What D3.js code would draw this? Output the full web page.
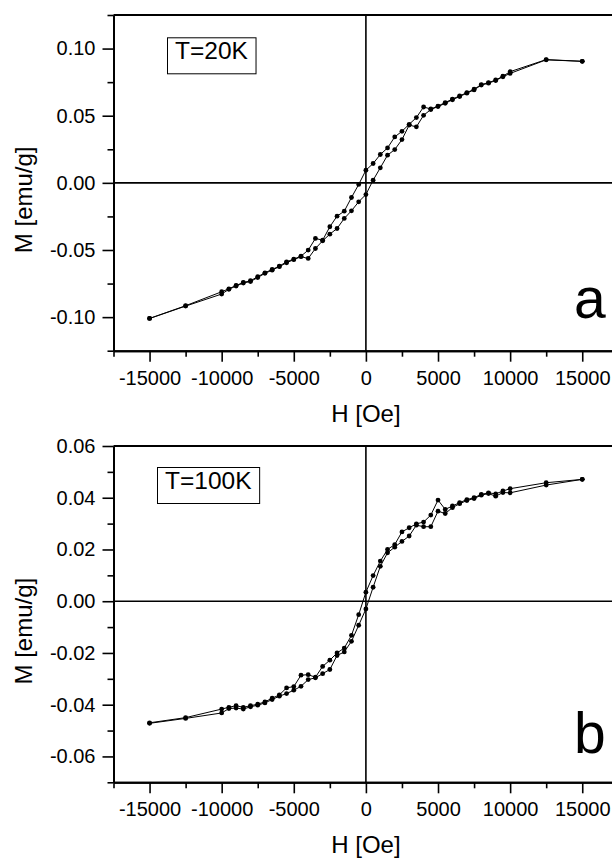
<!DOCTYPE html>
<html>
<head>
<meta charset="utf-8">
<script src="https://cdn.jsdelivr.net/npm/d3@7"></script>
<style>
  body { margin: 0; background: #fff; }
  text { font-family: "Liberation Sans", Arial, sans-serif; fill: #000; }
</style>
</head>
<body>
<div id="container"></div>
<script>
/* CONSTANTS AND GLOBALS */
const width = 612, height = 861;

// field steps (Oe), same grid for both loops, from +15000 down to -15000
const fieldH = [15000, 12500, 10000, 9500, 9000, 8500, 8000, 7500, 7000, 6500, 6000, 5500, 5000, 4500,
  4000, 3500, 3000, 2500, 2000, 1500, 1000, 500, 0, -500, -1000, -1500, -2000, -2500, -3000, -3500,
  -4000, -4500, -5000, -5500, -6000, -6500, -7000, -7500, -8000, -8500, -9000, -9500, -10000, -12500, -15000];

// T=20K : descending branch and ascending branch (emu/g)
const mDown20 = [0.0905, 0.0918, 0.0828, 0.0794, 0.0766, 0.0746, 0.0732, 0.0697, 0.0672, 0.0647, 0.0624, 0.0598, 0.0572, 0.0550,
  0.0565, 0.0486, 0.0436, 0.0384, 0.0342, 0.0260, 0.0211, 0.0144, 0.0094, -0.0012, -0.0109, -0.0211, -0.0248, -0.0327, -0.0427, -0.0414,
  -0.0501, -0.0546, -0.0568, -0.0588, -0.0620, -0.0645, -0.0670, -0.0699, -0.0729, -0.0742, -0.0764, -0.0789, -0.0811, -0.0915, -0.1010];
const mUp20 = [0.0905, 0.0916, 0.0815, 0.0790, 0.0762, 0.0742, 0.0728, 0.0692, 0.0668, 0.0643, 0.0619, 0.0592, 0.0568, 0.0546,
  0.0503, 0.0417, 0.0430, 0.0322, 0.0248, 0.0206, 0.0112, 0.0020, -0.0087, -0.0141, -0.0208, -0.0265, -0.0340, -0.0382, -0.0432, -0.0489,
  -0.0563, -0.0550, -0.0572, -0.0595, -0.0624, -0.0650, -0.0674, -0.0705, -0.0735, -0.0746, -0.0768, -0.0793, -0.0828, -0.0918, -0.1010];

// T=100K
const mDown100 = [0.0471, 0.0458, 0.0435, 0.0426, 0.0415, 0.0419, 0.0413, 0.0400, 0.0393, 0.0381, 0.0368, 0.0355, 0.0391, 0.0333,
  0.0306, 0.0299, 0.0284, 0.0268, 0.0219, 0.0200, 0.0155, 0.0099, 0.0035, -0.0052, -0.0132, -0.0181, -0.0200, -0.0228, -0.0252, -0.0294,
  -0.0284, -0.0286, -0.0330, -0.0335, -0.0362, -0.0375, -0.0389, -0.0398, -0.0404, -0.0410, -0.0404, -0.0410, -0.0417, -0.0450, -0.0470];
const mUp100 = [0.0471, 0.0449, 0.0419, 0.0420, 0.0406, 0.0416, 0.0410, 0.0397, 0.0389, 0.0377, 0.0362, 0.0339, 0.0348, 0.0288,
  0.0288, 0.0294, 0.0252, 0.0231, 0.0209, 0.0187, 0.0135, 0.0054, -0.0030, -0.0093, -0.0155, -0.0196, -0.0210, -0.0264, -0.0280, -0.0296,
  -0.0303, -0.0329, -0.0344, -0.0357, -0.0367, -0.0380, -0.0393, -0.0402, -0.0408, -0.0417, -0.0413, -0.0415, -0.0432, -0.0453, -0.0472];

// ticks
const xMajor = [-15000, -10000, -5000, 0, 5000, 10000, 15000];
const xMinor = [-17500, -12500, -7500, -2500, 2500, 7500, 12500, 17500];
const yMajor20 = [-0.10, -0.05, 0.00, 0.05, 0.10];
const yMinor20 = [-0.125, -0.075, -0.025, 0.025, 0.075, 0.125];
const yMajor100 = [-0.06, -0.04, -0.02, 0.00, 0.02, 0.04, 0.06];
const yMinor100 = [-0.07, -0.05, -0.03, -0.01, 0.01, 0.03, 0.05];

const panels = [
  { top: 15, bottom: 350.7, yDomain: [-0.125, 0.125], yMajor: yMajor20, yMinor: yMinor20,
    down: mDown20, up: mUp20, temp: "T=20K", letter: "a" },
  { top: 446, bottom: 782.3, yDomain: [-0.07, 0.06], yMajor: yMajor100, yMinor: yMinor100,
    down: mDown100, up: mUp100, temp: "T=100K", letter: "b" }
];

const left = 113.5, right = 618.3; // right edge of the frame falls outside the page

const svg = d3.select("#container").append("svg")
  .attr("width", width)
  .attr("height", height)
  .style("display", "block");

const xScale = d3.scaleLinear().domain([-17500, 17500]).range([left, right]);

panels.forEach(p => {
  const yScale = d3.scaleLinear().domain(p.yDomain).range([p.bottom, p.top]);
  const g = svg.append("g");

  // zero lines
  g.append("line")
    .attr("x1", left).attr("x2", right)
    .attr("y1", yScale(0)).attr("y2", yScale(0))
    .attr("stroke", "#000").attr("stroke-width", 1.6);
  g.append("line")
    .attr("x1", xScale(0)).attr("x2", xScale(0))
    .attr("y1", p.top).attr("y2", p.bottom)
    .attr("stroke", "#000").attr("stroke-width", 1.6);

  // top frame
  g.append("line")
    .attr("x1", left).attr("x2", right)
    .attr("y1", p.top).attr("y2", p.top)
    .attr("stroke", "#000").attr("stroke-width", 2);

  // AXES
  const xMinorAxis = d3.axisBottom(xScale).tickValues(xMinor).tickSize(6).tickSizeOuter(0).tickFormat("");
  const xAxis = d3.axisBottom(xScale).tickValues(xMajor).tickSize(11).tickSizeOuter(0)
    .tickPadding(9).tickFormat(d => String(d));
  const yMinorAxis = d3.axisLeft(yScale).tickValues(p.yMinor).tickSize(6).tickSizeOuter(0).tickFormat("");
  const yAxis = d3.axisLeft(yScale).tickValues(p.yMajor).tickSize(11).tickSizeOuter(0)
    .tickPadding(7).tickFormat(d => d.toFixed(2));

  [xMinorAxis, xAxis].forEach(ax => {
    g.append("g").attr("transform", `translate(0,${p.bottom})`).call(ax);
  });
  [yMinorAxis, yAxis].forEach(ax => {
    g.append("g").attr("transform", `translate(${left},0)`).call(ax);
  });
  g.selectAll(".domain").attr("stroke-width", 2);
  g.selectAll(".tick line").attr("stroke-width", 1.6);
  g.selectAll(".tick text").style("font-size", "20px").style("font-family", "'Liberation Sans', Arial, sans-serif");

  // axis titles
  g.append("text")
    .attr("x", xScale(0)).attr("y", p.bottom + 71)
    .attr("text-anchor", "middle")
    .style("font-size", "24px")
    .text("H [Oe]");
  g.append("text")
    .attr("transform", `translate(32,${(p.top + p.bottom) / 2 + 17}) rotate(-90)`)
    .attr("text-anchor", "middle")
    .style("font-size", "24px")
    .text("M [emu/g]");

  // DRAW LINE: descending branch then ascending branch back up
  const downPts = fieldH.map((h, i) => ({ h: h, m: p.down[i] }));
  const upPts = fieldH.map((h, i) => ({ h: h, m: p.up[i] })).reverse();
  const loop = downPts.concat(upPts);

  const line = d3.line()
    .x(d => xScale(d.h))
    .y(d => yScale(d.m));

  g.append("path")
    .attr("d", line(loop))
    .attr("fill", "none")
    .attr("stroke", "#000")
    .attr("stroke-width", 1);

  g.selectAll("circle.pt")
    .data(loop)
    .join("circle")
    .attr("class", "pt")
    .attr("cx", d => xScale(d.h))
    .attr("cy", d => yScale(d.m))
    .attr("r", 2.4)
    .attr("fill", "#000");

  // temperature box
  const isA = p.letter === "a";
  const tx = isA ? 175 : 165, ty = p.top + (isA ? 44.3 : 43);
  const box = g.append("rect")
    .attr("fill", "#fff").attr("stroke", "#000").attr("stroke-width", 1);
  const label = g.append("text")
    .attr("x", tx).attr("y", ty)
    .style("font-size", "24.5px")
    .text(p.temp);
  const bb = label.node().getBBox();
  box.attr("x", bb.x - 7.5).attr("y", bb.y + 0.5)
    .attr("width", bb.width + 15).attr("height", bb.height + 9);

  // panel letter
  g.append("text")
    .attr("x", 574).attr("y", p.bottom - (isA ? 33 : 29))
    .style("font-size", "57px")
    .text(p.letter);
});
</script>
</body>
</html>
